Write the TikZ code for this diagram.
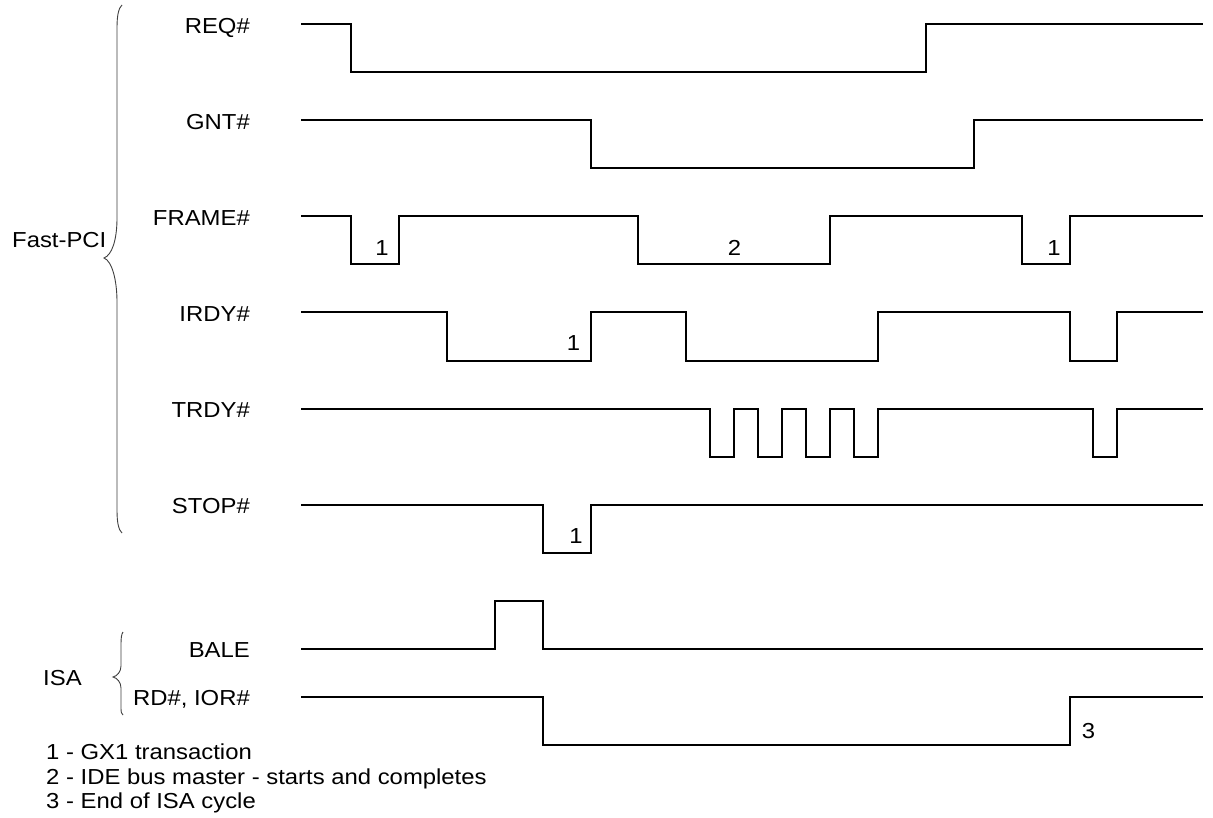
\documentclass[tikz,border=0pt]{standalone}
\usepackage{fontspec}
\setmainfont{Liberation Sans}[FakeStretch=1.10]
\begin{document}
\begin{tikzpicture}[x=1pt,y=-1pt,
  wave/.style={line width=2pt, line join=miter, line cap=rect},
  brace/.style={line width=0.9pt, draw=black!75},
  lab/.style={anchor=base east, inner sep=0pt, font=\fontsize{21.7pt}{23.5pt}\selectfont},
  num/.style={anchor=base, inner sep=0pt, font=\fontsize{21.7pt}{23.5pt}\selectfont},
  txt/.style={anchor=base west, inner sep=0pt, font=\fontsize{21.7pt}{23.5pt}\selectfont}]
\useasboundingbox (0,0) rectangle (1213,818);
\fill[white] (0,0) rectangle (1213,818);
% signal names
\node[lab] (lreq) at (250,33.5) {REQ\#};
\node[lab] (lgnt) at (250,129.5) {GNT\#};
\node[lab] (lframe) at (250,225.5) {FRAME\#};
\node[lab] (lirdy) at (250,321.5) {IRDY\#};
\node[lab] (ltrdy) at (250,417.5) {TRDY\#};
\node[lab] (lstop) at (250,513.5) {STOP\#};
\node[lab] (lbale) at (250,657.5) {BALE};
\node[lab] (lrd) at (250,705.5) {RD\#, IOR\#};
\node[txt] (fpci) at (12,248) {Fast-PCI};
\node[txt] (isa) at (43,685) {ISA};
% braces
\draw[brace] (122,5) .. controls (118.5,8) and (117,16) .. (117,28) -- (117,218)
  .. controls (117,240) and (112,255) .. (104,258)
  .. controls (112,261) and (117,280) .. (117,302) -- (117,510)
  .. controls (117,522) and (118.5,530) .. (122,533);
\draw[brace] (123,632) .. controls (121.5,634) and (121,638) .. (121,644) -- (121,666)
  .. controls (121,672) and (117,676) .. (113,677)
  .. controls (117,678) and (121,682) .. (121,688) -- (121,708)
  .. controls (121,712) and (121.5,714) .. (123,715);
% waveforms
\draw[wave] (302,24.5) -- (351,24.5) -- (351,72.5) -- (925.8,72.5) -- (925.8,24.5) -- (1202,24.5);
\draw[wave] (302,120.5) -- (590.5,120.5) -- (590.5,168.5) -- (973.7,168.5) -- (973.7,120.5) -- (1202,120.5);
\draw[wave] (302,216.5) -- (351,216.5) -- (351,264.5) -- (398.9,264.5) -- (398.9,216.5)
  -- (638.4,216.5) -- (638.4,264.5) -- (830,264.5) -- (830,216.5)
  -- (1021.6,216.5) -- (1021.6,264.5) -- (1069.5,264.5) -- (1069.5,216.5) -- (1202,216.5);
\draw[wave] (302,312.5) -- (446.8,312.5) -- (446.8,360.5) -- (590.5,360.5) -- (590.5,312.5)
  -- (686.3,312.5) -- (686.3,360.5) -- (877.9,360.5) -- (877.9,312.5)
  -- (1069.5,312.5) -- (1069.5,360.5) -- (1117.4,360.5) -- (1117.4,312.5) -- (1202,312.5);
\draw[wave] (302,408.5) -- (710.25,408.5) -- (710.25,456.5) -- (734.2,456.5) -- (734.2,408.5)
  -- (758.15,408.5) -- (758.15,456.5) -- (782.1,456.5) -- (782.1,408.5)
  -- (806.05,408.5) -- (806.05,456.5) -- (830,456.5) -- (830,408.5)
  -- (853.95,408.5) -- (853.95,456.5) -- (877.9,456.5) -- (877.9,408.5)
  -- (1093.45,408.5) -- (1093.45,456.5) -- (1117.4,456.5) -- (1117.4,408.5) -- (1202,408.5);
\draw[wave] (302,504.5) -- (542.6,504.5) -- (542.6,552.5) -- (590.5,552.5) -- (590.5,504.5) -- (1202,504.5);
\draw[wave] (302,648.5) -- (494.7,648.5) -- (494.7,600.5) -- (542.6,600.5) -- (542.6,648.5) -- (1202,648.5);
\draw[wave] (302,696.5) -- (542.6,696.5) -- (542.6,744.5) -- (1069.5,744.5) -- (1069.5,696.5) -- (1202,696.5);
% annotation numbers
\node[num] (n1a) at (382,256) {1};
\node[num] (n2) at (734.5,256) {2};
\node[num] (n1b) at (1054,256) {1};
\node[num] (n1c) at (573.5,351) {1};
\node[num] (n1d) at (576,543) {1};
\node[num] (n3) at (1088.5,738) {3};
% legend
\node[txt] (leg1) at (46,759) {1 - GX1 transaction};
\node[txt] (leg2) at (46,784) {2 - IDE bus master - starts and completes};
\node[txt] (leg3) at (46,808.5) {3 - End of ISA cycle};
\end{tikzpicture}
\end{document}
